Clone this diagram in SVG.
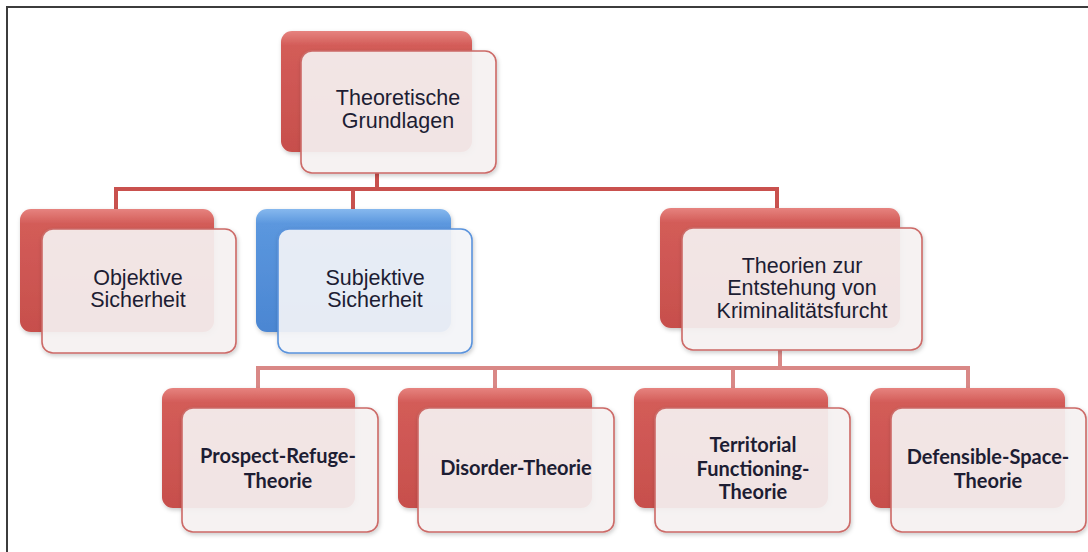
<svg xmlns="http://www.w3.org/2000/svg" width="1088" height="552" viewBox="0 0 1088 552">
<defs>
<linearGradient id="gRed" x1="0" y1="0" x2="0" y2="1">
<stop offset="0" stop-color="#e6837f"/>
<stop offset="0.12" stop-color="#d35c58"/>
<stop offset="1" stop-color="#c74f4c"/>
</linearGradient>
<linearGradient id="gBlue" x1="0" y1="0" x2="0" y2="1">
<stop offset="0" stop-color="#86b8ee"/>
<stop offset="0.12" stop-color="#5b97de"/>
<stop offset="1" stop-color="#4b86d2"/>
</linearGradient>
<filter id="sh" x="-10%" y="-10%" width="125%" height="130%">
<feDropShadow dx="1" dy="2" stdDeviation="2" flood-color="#000" flood-opacity="0.22"/>
</filter>
</defs>
<style>
.backR{fill:url(#gRed);filter:url(#sh)}
.backB{fill:url(#gBlue);filter:url(#sh)}
.frontR{fill:#f7f3f3;fill-opacity:0.9;stroke:#cc6a67;stroke-width:1.6;filter:url(#sh)}
.frontB{fill:#f5f6f9;fill-opacity:0.9;stroke:#5a93dc;stroke-width:1.6;filter:url(#sh)}
.t1{font-family:"Liberation Sans",Arial,sans-serif;font-size:21.5px;fill:#1d1d33;text-anchor:middle}
.t2{font-family:Lato,"Liberation Sans",sans-serif;font-weight:bold;font-size:20px;fill:#1d1d33;text-anchor:middle}
.c1{stroke:#c9514e;stroke-width:4;fill:none}
.c2{stroke:#d98886;stroke-width:4;fill:none}
</style>
<rect width="1088" height="552" fill="#ffffff"/>
<path d="M7 552 V7 H1088" fill="none" stroke="#3c3c3c" stroke-width="2"/>

<g id="connectors">
<path class="c1" d="M377 173 V189 M116 210 V189 H777 V210 M353 189 V210"/>
<path class="c2" d="M780 350 V368 M258 388 V368 H968 V388 M495 368 V388 M733 368 V388"/>
</g>

<g id="node-theoretische">
<rect class="backR" x="281" y="31" width="191" height="121" rx="11"/>
<rect class="frontR" x="301" y="51" width="195" height="122" rx="11"/>
<text class="t1" x="398" y="105">Theoretische</text>
<text class="t1" x="398" y="128">Grundlagen</text>
</g>

<g id="node-objektiv">
<rect class="backR" x="20" y="209" width="194" height="123" rx="11"/>
<rect class="frontR" x="42" y="229" width="194" height="124" rx="11"/>
<text class="t1" x="138" y="285">Objektive</text>
<text class="t1" x="138" y="307">Sicherheit</text>
</g>

<g id="node-subjektiv">
<rect class="backB" x="256" y="209" width="195" height="123" rx="11"/>
<rect class="frontB" x="278" y="229" width="194" height="124" rx="11"/>
<text class="t1" x="375" y="285">Subjektive</text>
<text class="t1" x="375" y="307">Sicherheit</text>
</g>

<g id="node-theorien">
<rect class="backR" x="660" y="208" width="240" height="120" rx="11"/>
<rect class="frontR" x="682" y="228" width="240" height="122" rx="11"/>
<text class="t1" x="802" y="273">Theorien zur</text>
<text class="t1" x="802" y="295">Entstehung von</text>
<text class="t1" x="802" y="318">Kriminalitätsfurcht</text>
</g>

<g id="node-prospect">
<rect class="backR" x="162" y="388" width="193" height="120" rx="11"/>
<rect class="frontR" x="182" y="408" width="196" height="124" rx="11"/>
<text class="t2" x="278" y="463">Prospect-Refuge-</text>
<text class="t2" x="278" y="488">Theorie</text>
</g>

<g id="node-disorder">
<rect class="backR" x="398" y="388" width="194" height="120" rx="11"/>
<rect class="frontR" x="418" y="408" width="196" height="124" rx="11"/>
<text class="t2" x="516" y="475">Disorder-Theorie</text>
</g>

<g id="node-territorial">
<rect class="backR" x="634" y="388" width="194" height="120" rx="11"/>
<rect class="frontR" x="655" y="408" width="195" height="124" rx="11"/>
<text class="t2" x="753" y="452">Territorial</text>
<text class="t2" x="753" y="476">Functioning-</text>
<text class="t2" x="753" y="499">Theorie</text>
</g>

<g id="node-defensible">
<rect class="backR" x="870" y="388" width="195" height="120" rx="11"/>
<rect class="frontR" x="891" y="408" width="195" height="124" rx="11"/>
<text class="t2" x="988" y="464">Defensible-Space-</text>
<text class="t2" x="988" y="488">Theorie</text>
</g>
</svg>
